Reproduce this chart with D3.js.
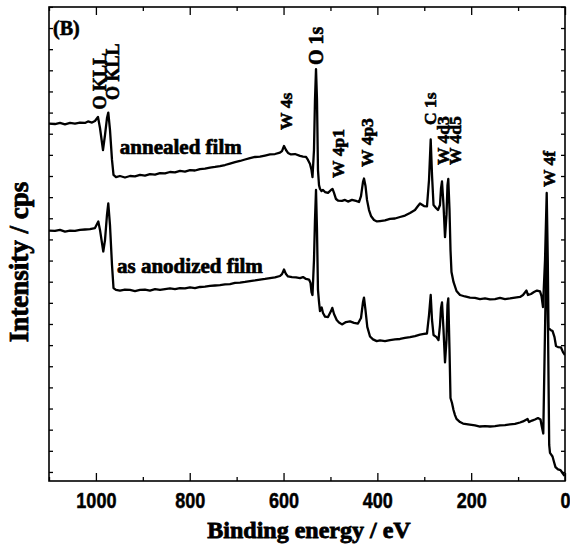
<!DOCTYPE html>
<html><head><meta charset="utf-8">
<script src="https://cdn.jsdelivr.net/npm/d3@7"></script>
<style>body{margin:0;background:#fff}svg{display:block}</style>
</head><body>
<svg id="c" width="570" height="546"></svg>
<script>
// Binding energy (eV), intensity (a.u., 1 tick = 10)
const annealed = [[1100.0,174.8],[1087.2,174.6],[1076.6,175.1],[1065.9,174.4],[1055.2,175.1],[1044.6,174.8],[1033.9,175.3],[1023.3,175.1],[1016.9,175.8],[1008.3,175.3],[1002.0,176.0],[995.6,177.9],[991.3,172.7],[984.9,162.3],[980.6,169.4],[976.4,177.4],[973.6,180.0],[970.0,171.8],[965.7,157.6],[962.5,150.5],[957.2,149.5],[948.7,150.0],[938.0,149.3],[927.3,150.0],[916.7,149.8],[906.0,150.5],[895.4,150.2],[884.7,150.9],[874.0,150.7],[863.4,151.4],[852.7,151.2],[842.1,151.9],[831.4,151.7],[820.7,152.4],[810.1,152.1],[799.4,152.8],[788.8,152.6],[778.1,153.3],[767.4,153.5],[756.8,154.0],[746.1,154.3],[735.5,154.7],[724.8,155.2],[714.2,155.9],[703.5,156.6],[692.8,157.1],[682.2,157.8],[671.5,158.5],[660.9,159.0],[650.2,159.2],[639.5,159.7],[628.9,160.2],[618.2,160.4],[607.6,161.1],[603.3,161.8],[599.0,164.2],[594.8,162.3],[590.5,160.9],[584.1,160.2],[575.6,160.4],[564.9,159.5],[558.5,159.2],[552.1,159.0],[547.9,157.6],[543.6,155.7],[540.4,152.8],[538.3,149.5],[535.1,162.3],[533.0,186.0],[530.8,200.6],[528.7,186.0],[526.6,152.8],[524.4,145.7],[522.3,143.9],[519.1,142.9],[515.9,143.4],[511.6,142.4],[505.2,142.0],[498.8,143.4],[495.6,143.9],[492.4,142.0],[488.2,139.1],[483.9,138.4],[475.4,138.2],[469.0,138.7],[462.6,137.9],[454.1,138.7],[445.5,138.2],[439.2,137.7],[434.9,140.5],[430.6,147.2],[428.5,148.8],[425.3,145.3],[422.1,138.7],[417.8,133.9],[413.6,131.1],[407.2,129.2],[400.8,128.5],[394.4,128.7],[383.7,129.0],[373.1,129.7],[362.4,129.9],[351.7,130.6],[341.1,131.3],[330.4,132.5],[319.8,133.9],[313.4,135.8],[309.1,137.0],[300.6,135.8],[294.2,135.6],[289.9,148.1],[286.3,167.3],[283.5,150.5],[280.3,136.3],[275.0,134.9],[270.7,133.9],[266.5,136.3],[264.3,144.3],[262.2,147.4],[259.0,136.3],[255.8,121.1],[252.6,131.6],[250.5,145.7],[248.8,148.6],[246.2,133.9],[244.1,115.0],[242.0,104.6],[237.7,99.9],[231.3,95.6],[223.8,93.7],[213.2,93.0],[202.5,92.5],[191.9,92.3],[181.2,91.8],[170.5,92.1],[159.9,91.6],[149.2,91.8],[138.6,92.3],[127.9,91.8],[117.2,92.1],[106.6,92.5],[95.9,92.8],[89.5,93.7],[82.1,95.8],[78.9,93.7],[72.5,94.2],[66.1,95.1],[59.7,95.8],[53.3,95.4],[50.1,93.2],[46.9,88.0],[42.6,110.3],[39.0,142.0],[36.7,110.3],[35.2,78.1],[30.9,77.2],[26.6,76.7],[22.4,73.8],[19.2,69.6],[14.9,69.1],[8.5,68.9],[4.3,66.7],[0,65.3]];

const asAnodized = [[1100.0,124.2],[1087.2,124.0],[1076.6,124.5],[1065.9,123.7],[1055.2,124.2],[1044.6,124.0],[1033.9,124.5],[1023.3,124.7],[1012.6,124.9],[1002.0,125.4],[994.9,128.5],[991.3,124.5],[984.3,114.3],[980.6,119.7],[976.4,131.6],[973.6,137.0],[970.0,126.8],[965.7,107.9],[962.5,97.0],[957.2,96.1],[948.7,95.8],[938.0,96.3],[927.3,96.1],[916.7,95.6],[906.0,96.1],[895.4,96.3],[884.7,95.8],[874.0,96.5],[863.4,96.1],[852.7,96.5],[842.1,96.8],[831.4,96.5],[820.7,97.0],[810.1,96.8],[799.4,97.3],[788.8,97.0],[778.1,97.5],[767.4,97.7],[756.8,98.0],[746.1,98.2],[735.5,98.4],[724.8,98.7],[714.2,98.9],[703.5,99.4],[692.8,99.6],[682.2,99.9],[671.5,100.3],[660.9,100.6],[650.2,101.0],[639.5,101.3],[628.9,101.7],[618.2,102.0],[607.6,102.7],[603.3,103.6],[599.0,105.8],[594.8,103.6],[590.5,102.5],[582.0,102.2],[573.5,102.0],[564.9,101.7],[558.5,102.2],[552.1,101.3],[545.7,101.0],[542.5,99.4],[540.4,95.1],[538.3,93.7],[535.1,110.3],[533.0,129.2],[530.8,143.4],[528.7,124.5],[526.6,96.1],[524.4,90.4],[522.3,86.1],[518.7,87.8],[515.9,85.2],[511.6,83.5],[505.2,83.3],[498.8,86.1],[496.1,87.6],[492.4,84.7],[486.7,81.9],[481.8,80.7],[475.4,79.8],[466.9,80.9],[458.3,81.2],[449.8,80.5],[441.3,80.2],[434.9,82.8],[430.6,90.4],[428.5,92.5],[425.3,86.6],[421.5,78.6],[415.7,74.1],[409.3,72.7],[401.4,71.9],[394.4,72.2],[383.7,71.9],[373.1,72.4],[362.4,72.7],[351.7,72.9],[341.1,73.4],[330.4,73.8],[319.8,74.3],[309.1,75.0],[300.6,75.3],[294.2,75.5],[289.9,84.2],[286.3,93.7],[283.5,81.9],[280.3,74.8],[273.9,73.8],[269.7,72.4],[266.5,79.5],[264.3,87.6],[262.2,90.2],[259.0,77.2],[255.8,61.8],[252.6,72.4],[250.5,89.0],[248.8,92.1],[246.2,67.7],[244.1,45.0],[240.9,42.6],[237.7,39.3],[234.5,36.9],[231.3,35.1],[223.8,33.6],[217.4,32.9],[206.8,32.5],[191.9,32.0],[181.2,31.5],[170.5,31.7],[159.9,31.5],[149.2,31.7],[138.6,32.0],[127.9,32.2],[117.2,32.5],[106.6,32.7],[95.9,33.4],[89.5,33.9],[79.9,35.1],[76.7,33.6],[70.3,34.3],[64.0,34.8],[57.6,35.5],[52.2,34.8],[50.1,32.2],[46.3,28.2],[42.6,77.2],[39.4,119.7],[36.2,77.2],[33.7,22.8],[32.0,19.0],[26.6,17.3],[23.4,14.7],[20.3,12.3],[14.9,11.2],[9.6,10.9],[5.3,9.5],[1.1,8.1]];

const xMajorTicks = [1000, 800, 600, 400, 200, 0];
const xMinorTicks = [1100, 900, 700, 500, 300, 100];
const yTicks = d3.range(10, 231, 10);

// peak labels: [text, energy, intensity at text start, font size]
const peakLabels = [
  ["O KLL", 991, 181.5, 18], ["O KLL", 964, 186, 18], ["W 4s", 595, 171.8, 17.5],
  ["O 1s", 530.5, 202.5, 20], ["W 4p1", 485, 149.1, 17.5], ["W 4p3", 422, 154.3, 17.5],
  ["C 1s", 287, 174.1, 17.5], ["W 4d3", 261, 155.2, 17.5], ["W 4d5", 235, 155.2, 17.5],
  ["W 4f", 34, 144.8, 17.5]
];
const curveLabels = [["annealed film", 949, 160.4], ["as anodized film", 955, 104.1]];

const svg = d3.select("#c");
const L = 49, R = 565, T = 7, B = 481;
const x = d3.scaleLinear().domain([1100, 0]).range([L, R]);
const y = d3.scaleLinear().domain([5.72, 229.95]).range([B, T]);

const serif = "'Liberation Serif','Times New Roman',serif";
const sans = "'Liberation Sans',Arial,sans-serif";
const bold = sel => sel.attr("font-weight", "bold").attr("fill", "#000")
  .attr("stroke", "#000").attr("stroke-width", 0.6);

svg.append("clipPath").attr("id", "clip").append("rect")
  .attr("x", L).attr("y", T).attr("width", R - L).attr("height", B - T);

const line = d3.line().x(d => x(d[0])).y(d => y(d[1]));
[annealed, asAnodized].forEach(s => {
  svg.append("path").datum(s).attr("d", line).attr("fill", "none")
    .attr("stroke", "#000").attr("stroke-width", 2.3).attr("stroke-linejoin", "round")
    .attr("clip-path", "url(#clip)");
});

// axes
const gB = svg.append("g").attr("transform", `translate(0,${B})`)
  .call(d3.axisBottom(x).tickValues(xMajorTicks).tickFormat(d3.format("d"))
    .tickSizeInner(-8).tickSizeOuter(0).tickPadding(11));
const gBm = svg.append("g").attr("transform", `translate(0,${B})`)
  .call(d3.axisBottom(x).tickValues(xMinorTicks).tickSizeInner(-4).tickSizeOuter(0).tickFormat(""));
const gT = svg.append("g").attr("transform", `translate(0,${T})`)
  .call(d3.axisTop(x).tickValues(xMajorTicks).tickSizeInner(-8).tickSizeOuter(0).tickFormat(""));
const gTm = svg.append("g").attr("transform", `translate(0,${T})`)
  .call(d3.axisTop(x).tickValues(xMinorTicks).tickSizeInner(-4).tickSizeOuter(0).tickFormat(""));
const gL = svg.append("g").attr("transform", `translate(${L},0)`)
  .call(d3.axisLeft(y).tickValues(yTicks).tickSizeInner(-4).tickSizeOuter(0).tickFormat(""));
const gR = svg.append("g").attr("transform", `translate(${R},0)`)
  .call(d3.axisRight(y).tickValues(yTicks).tickSizeInner(-4).tickSizeOuter(0).tickFormat(""));
[gB, gBm, gT, gTm, gL, gR].forEach(g => {
  g.select(".domain").remove();
  g.selectAll("line").attr("stroke", "#000").attr("stroke-width", 1.3);
});
gB.selectAll("text").attr("font-family", sans).attr("font-size", 22)
  .attr("transform", "scale(0.82,1)").call(bold).attr("stroke-width", 0.5);

svg.append("rect").attr("x", L).attr("y", T).attr("width", R - L).attr("height", B - T)
  .attr("fill", "none").attr("stroke", "#000").attr("stroke-width", 1.6);

// titles
svg.append("text").attr("x", 309).attr("y", 538).attr("text-anchor", "middle")
  .attr("font-family", serif).attr("font-size", 24).call(bold).attr("stroke-width", 0.8)
  .text("Binding energy / eV");
svg.append("text").attr("transform", "translate(28,262) rotate(-90)").attr("text-anchor", "middle")
  .attr("font-family", serif).attr("font-size", 27).call(bold).attr("stroke-width", 0.8)
  .text("Intensity / cps");
svg.append("text").attr("x", 53).attr("y", 35)
  .attr("font-family", serif).attr("font-size", 20).call(bold).text("(B)");

// peak labels
peakLabels.forEach(([t, e, i, fs]) => {
  svg.append("text").attr("transform", `translate(${x(e) + fs * 0.35},${y(i)}) rotate(-90)`)
    .attr("font-family", serif).attr("font-size", fs).call(bold).text(t);
});
curveLabels.forEach(([t, e, i]) => {
  svg.append("text").attr("x", x(e)).attr("y", y(i))
    .attr("font-family", serif).attr("font-size", 21).call(bold).attr("stroke-width", 0.7).text(t);
});
</script>
</body></html>
